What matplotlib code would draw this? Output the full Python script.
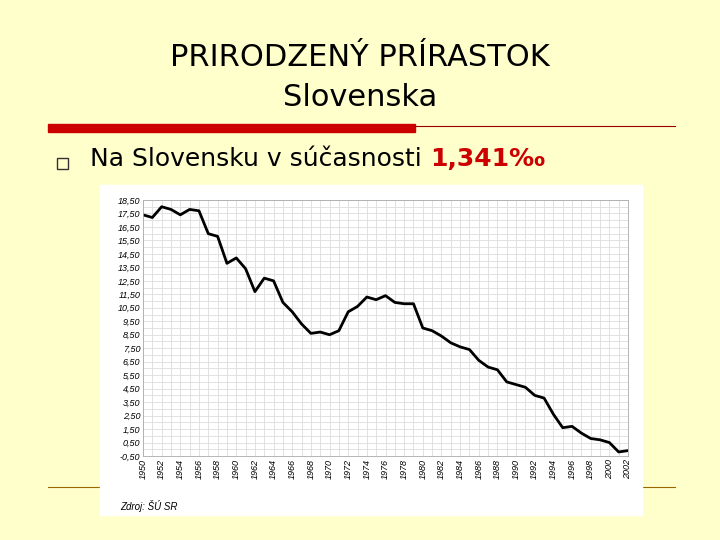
import matplotlib
matplotlib.use("Agg")
import matplotlib.pyplot as plt
from matplotlib.patches import Rectangle
from matplotlib.lines import Line2D
import numpy as np

years = list(range(1950, 2003))
values = [17.4, 17.2, 18.0, 17.8, 17.4, 17.8, 17.7, 16.0, 15.8, 13.8, 14.2, 13.4,
          11.7, 12.7, 12.5, 10.9, 10.2, 9.3, 8.6, 8.7, 8.5, 8.8, 10.2, 10.6, 11.3,
          11.1, 11.4, 10.9, 10.8, 10.8, 9.0, 8.8, 8.4, 7.9, 7.6, 7.4, 6.6, 6.1, 5.9,
          5.0, 4.8, 4.6, 4.0, 3.8, 2.6, 1.6, 1.7, 1.2, 0.8, 0.7, 0.5, -0.2, -0.1]
yticks = np.arange(-0.5, 18.6, 1.0)

W, H = 720, 540
fig = plt.figure(figsize=(7.2, 5.4), dpi=100)
fig.patch.set_facecolor("#FFFFCC")

def fx(x): return x / W
def fy(y): return 1 - y / H

fig.text(0.5, fy(57), "PRIRODZENÝ PRÍRASTOK", ha="center", va="center", fontsize=22, family="DejaVu Sans")
fig.text(0.5, fy(97), "Slovenska", ha="center", va="center", fontsize=22, family="DejaVu Sans")
fig.add_artist(Rectangle((fx(48), fy(132)), fx(415 - 48), 8 / H, transform=fig.transFigure, color="#CC0000"))
fig.add_artist(Line2D([fx(415), fx(675)], [fy(126), fy(126)], transform=fig.transFigure, color="#990000", lw=0.8))
fig.add_artist(Rectangle((fx(57), fy(169)), 11 / W, 11 / H, transform=fig.transFigure, fill=False, ec="#333333", lw=1))
t1 = fig.text(fx(90), fy(159), "Na Slovensku v súčasnosti ", ha="left", va="center", fontsize=18, family="DejaVu Sans")
fig.canvas.draw()
bb = t1.get_window_extent()
x_end = fig.transFigure.inverted().transform((bb.x1, 0))[0]
fig.text(x_end, fy(159), "1,341‰", ha="left", va="center", fontsize=18, fontweight="bold", color="#CC0000", family="DejaVu Sans")
fig.add_artist(Line2D([fx(48), fx(675)], [fy(487), fy(487)], transform=fig.transFigure, color="#996600", lw=0.8))
fig.add_artist(Rectangle((fx(100), fy(515)), fx(542), 330 / H, transform=fig.transFigure, color="white", zorder=2))
fig.text(fx(120), fy(506), "Zdroj: ŠÚ SR", fontsize=7, style="italic", va="center", family="Liberation Sans", zorder=3)

ax = fig.add_axes([fx(143), fy(456), fx(628 - 143), (456 - 200) / H])
ax.set_zorder(5)
ax.set_facecolor("white")
ax.plot(years, values, color="black", lw=2)
ax.set_xlim(1950, 2002)
ax.set_ylim(-0.5, 18.5)
ax.set_yticks(yticks)
ax.set_yticklabels([f"{v:.2f}".replace(".", ",") for v in yticks], fontsize=6.5, style="italic", family="Liberation Sans")
ax.set_yticks(np.arange(-0.5, 18.6, 0.5), minor=True)
ax.set_xticks(range(1950, 2003, 2))
ax.set_xticklabels([str(y) for y in range(1950, 2003, 2)], rotation=90, fontsize=6.5, style="italic", family="Liberation Sans")
ax.set_xticks(range(1950, 2003), minor=True)
ax.grid(True, which="both", color="#DDDDDD", lw=0.6)
ax.tick_params(length=0, which="both", pad=2)
for s in ax.spines.values():
    s.set_color("#AAAAAA"); s.set_linewidth(0.6)

fig.savefig("out.png", dpi=100, facecolor=fig.get_facecolor())
